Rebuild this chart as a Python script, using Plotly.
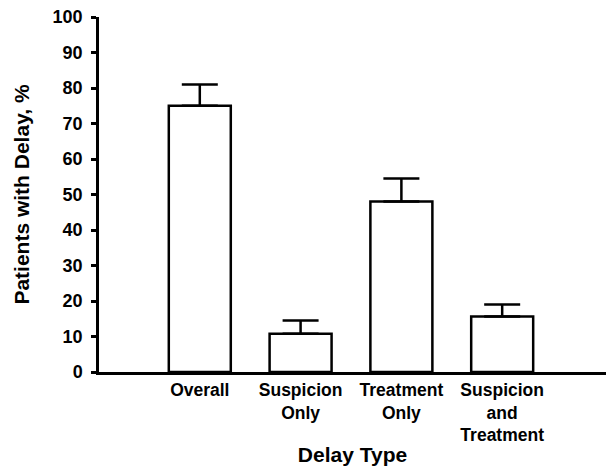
import plotly.graph_objects as go

categories = ["Overall", "Suspicion<br>Only", "Treatment<br>Only", "Suspicion<br>and<br>Treatment"]
values = [75, 10.8, 48, 15.6]
errors_up = [6, 3.7, 6.5, 3.4]
y_ticks = list(range(0, 101, 10))

pos = list(range(len(categories)))
FONT = "Liberation Sans, Arial, sans-serif"

fig = go.Figure()
fig.add_trace(go.Bar(
    x=pos, y=values, width=0.615,
    marker=dict(color="white", line=dict(color="black", width=2.5)),
    error_y=dict(type="data", symmetric=False, array=errors_up,
                 arrayminus=[0] * len(values), color="black",
                 thickness=2.5, width=18),
))

fig.update_layout(
    width=608, height=466,
    margin=dict(l=99, r=2, t=17, b=94),
    plot_bgcolor="white", paper_bgcolor="white",
    showlegend=False,
    font=dict(family=FONT, color="black"),
)
fig.update_xaxes(
    range=[-1, 4.03], tickmode="array", tickvals=pos, ticktext=categories,
    showline=True, linecolor="black", linewidth=2.5, ticks="",
    showgrid=False, zeroline=False,
    tickfont=dict(family=FONT, size=17.5, weight="bold", color="black"),
    title=dict(text="Delay Type", font=dict(family=FONT, size=21, weight="bold"), standoff=4),
)
fig.update_yaxes(
    range=[0, 100], tickmode="array", tickvals=y_ticks,
    showline=True, linecolor="black", linewidth=2.5,
    ticks="outside", ticklen=5, tickwidth=2.5, tickcolor="black",
    ticklabelstandoff=5,
    showgrid=False, zeroline=False,
    tickfont=dict(family=FONT, size=18, weight="bold", color="black"),
    title=dict(text="Patients with Delay, %", font=dict(family=FONT, size=21, weight="bold"), standoff=18),
)

fig.write_html("out.html")
